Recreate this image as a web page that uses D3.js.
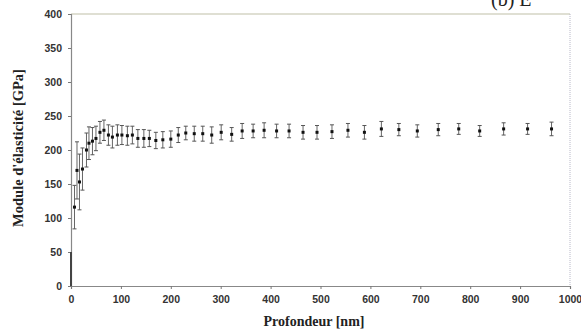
<!DOCTYPE html>
<html><head><meta charset="utf-8">
<script src="https://cdn.jsdelivr.net/npm/d3@7"></script>
<style>body{margin:0;background:#fff}svg{display:block}</style>
</head><body>
<script>
const depth = [0,7,12,17,23,31,36,43,50,58,66,75,83,93,102,113,123,134,146,157,170,184,200,215,230,247,264,282,301,322,343,365,387,412,437,465,493,523,555,588,622,657,694,736,777,819,867,915,963];
const modulus = [0,116,170,153,172,200,210,213,217,226,229,222,219,222,222,221,222,217,217,217,214,215,216,222,225,224,224,222,226,223,228,228,229,228,228,226,226,227,229,226,231,230,228,230,231,228,231,231,231];
const errors = [50,32,42,41,31,25,24,20,18,16,15,15,16,15,14,14,13,13,13,12,12,12,12,11,10,11,11,12,11,10,11,10,11,10,10,10,10,10,10,10,11,9,9,9,8,8,9,8,10];
const xTicks = [0,100,200,300,400,500,600,700,800,900,1000];
const yTicks = [0,50,100,150,200,250,300,350,400];

const W=581,H=334;
const svg=d3.select("body").append("svg").attr("width",W).attr("height",H);
const x=d3.scaleLinear().domain([0,1000]).range([71,570]);
const y=d3.scaleLinear().domain([0,400]).range([286,14]);

// frame top and right
svg.append("line").attr("x1",x(0)).attr("x2",x(1000)).attr("y1",y(400)).attr("y2",y(400)).attr("stroke","#d4d4c4").attr("stroke-width",1.5);
svg.append("line").attr("x1",x(1000)).attr("x2",x(1000)).attr("y1",y(400)).attr("y2",y(0)).attr("stroke","#b8b8c8").attr("stroke-width",1).attr("stroke-dasharray","1,1");

const tickFont = "'Liberation Sans', Arial, sans-serif";
const yAxis = svg.append("g").attr("transform",`translate(${x(0)},0)`)
  .call(d3.axisLeft(y).tickValues(yTicks).tickFormat(d3.format("d")).tickSize(3).tickPadding(6));
const xAxis = svg.append("g").attr("transform",`translate(0,${y(0)})`)
  .call(d3.axisBottom(x).tickValues(xTicks).tickFormat(d3.format("d")).tickSize(3).tickPadding(7));
[yAxis,xAxis].forEach(g=>{
  g.select(".domain").attr("stroke","#888").attr("stroke-width",1.2);
  g.selectAll(".tick line").attr("stroke","#777");
  g.selectAll(".tick text").attr("fill","#333").style("font-family",tickFont).style("font-size","10.5px").style("font-weight","bold");
});

const clip = svg.append("clipPath").attr("id","c").append("rect").attr("x",x(0)-3).attr("y",y(400)).attr("width",x(1000)-x(0)+6).attr("height",y(0)-y(400));
const data = depth.map((d,i)=>({d, v:modulus[i], e:errors[i]}));
const pts = svg.append("g").attr("clip-path","url(#c)");
const bars = pts.selectAll("g.eb").data(data).join("g").attr("class","eb");
bars.append("line").attr("x1",d=>x(d.d)).attr("x2",d=>x(d.d)).attr("y1",d=>y(d.v+d.e)).attr("y2",d=>y(d.v-d.e))
  .attr("stroke",(d,i)=>i===0?"#444":"#666").attr("stroke-width",(d,i)=>i===0?2:1);
bars.filter((d,i)=>i>0).append("line").attr("x1",d=>x(d.d)-2).attr("x2",d=>x(d.d)+2).attr("y1",d=>y(d.v+d.e)).attr("y2",d=>y(d.v+d.e)).attr("stroke","#555");
bars.filter((d,i)=>i>0).append("line").attr("x1",d=>x(d.d)-2).attr("x2",d=>x(d.d)+2).attr("y1",d=>y(d.v-d.e)).attr("y2",d=>y(d.v-d.e)).attr("stroke","#555");
bars.filter((d,i)=>i>0).append("rect").attr("x",d=>x(d.d)-1.5).attr("y",d=>y(d.v)-1.5).attr("width",3).attr("height",3).attr("fill","#111");

const serif = "'Liberation Serif', 'Times New Roman', serif";
svg.append("text").attr("x",314).attr("y",326).attr("text-anchor","middle")
  .style("font-family",serif).style("font-weight","bold").style("font-size","14px").attr("fill","#222").text("Profondeur [nm]");
svg.append("text").attr("transform","translate(23,148) rotate(-90)").attr("text-anchor","middle")
  .style("font-family",serif).style("font-weight","bold").style("font-size","14.5px").attr("fill","#222").text("Module d'élasticité [GPa]");
svg.append("text").attr("x",491).attr("y",6).style("font-family",serif).style("font-size","20px").attr("fill","#222").text("(b)  E");
</script>
</body></html>
